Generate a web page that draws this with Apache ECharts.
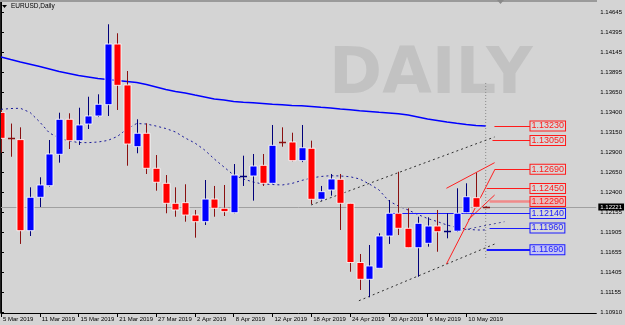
<!DOCTYPE html>
<html><head><meta charset="utf-8">
<script src="https://cdn.jsdelivr.net/npm/echarts@6/dist/echarts.min.js"></script>
<style>html,body{margin:0;padding:0;background:#d4d4d4}#c{width:625px;height:325px}</style>
</head><body><div id="c"></div>
<script>
const dates = ['5 Mar 2019','6 Mar 2019','7 Mar 2019','8 Mar 2019','11 Mar 2019','12 Mar 2019','13 Mar 2019','14 Mar 2019','15 Mar 2019','18 Mar 2019','19 Mar 2019','20 Mar 2019','21 Mar 2019','22 Mar 2019','25 Mar 2019','26 Mar 2019','27 Mar 2019','28 Mar 2019','29 Mar 2019','1 Apr 2019','2 Apr 2019','3 Apr 2019','4 Apr 2019','5 Apr 2019','8 Apr 2019','9 Apr 2019','10 Apr 2019','11 Apr 2019','12 Apr 2019','15 Apr 2019','16 Apr 2019','17 Apr 2019','18 Apr 2019','19 Apr 2019','22 Apr 2019','23 Apr 2019','24 Apr 2019','25 Apr 2019','26 Apr 2019','29 Apr 2019','30 Apr 2019','1 May 2019','2 May 2019','3 May 2019','6 May 2019','7 May 2019','8 May 2019','9 May 2019','10 May 2019','13 May 2019','14 May 2019'];
const opens  = [1.13398,1.13076,1.13060,1.11926,1.12342,1.12486,1.12877,1.13313,1.13046,1.13254,1.13354,1.13495,1.14250,1.13740,1.12972,1.13139,1.12703,1.12516,1.12267,1.12275,1.12121,1.12038,1.12320,1.12205,1.12150,1.12610,1.12607,1.12740,1.12516,1.13030,1.13030,1.12798,1.12952,1.12317,1.12433,1.12566,1.12267,1.11530,1.11321,1.11458,1.11860,1.12143,1.11956,1.11714,1.11769,1.11984,1.11913,1.11920,1.12150,1.12337,1.12225];
const closes = [1.13076,1.13060,1.11926,1.12342,1.12495,1.12881,1.13313,1.13046,1.13242,1.13354,1.13500,1.14250,1.13736,1.13005,1.13139,1.12703,1.12529,1.12267,1.12184,1.12121,1.12038,1.12320,1.12205,1.12163,1.12619,1.12612,1.12731,1.12516,1.12989,1.13025,1.12798,1.12959,1.12317,1.12412,1.12570,1.12267,1.11530,1.11321,1.11487,1.11860,1.12143,1.11956,1.11714,1.12018,1.11984,1.11913,1.11916,1.12143,1.12349,1.12217,1.12221];
const lows   = [1.12897,1.12847,1.11761,1.11860,1.12221,1.12474,1.12773,1.12943,1.12993,1.13192,1.13341,1.13354,1.13429,1.12735,1.12890,1.12632,1.12424,1.12143,1.12100,1.12038,1.11839,1.11997,1.12100,1.12109,1.12143,1.12483,1.12300,1.12483,1.12508,1.12972,1.12790,1.12780,1.12258,1.12300,1.12362,1.11935,1.11415,1.11188,1.11097,1.11458,1.11761,1.11872,1.11710,1.11353,1.11727,1.11664,1.11831,1.11910,1.12143,1.12210,1.12215];
const highs  = [1.13430,1.13260,1.13213,1.12466,1.12591,1.13055,1.13395,1.13388,1.13457,1.13594,1.13624,1.14496,1.14384,1.13914,1.13313,1.13263,1.12868,1.12619,1.12466,1.12504,1.12184,1.12557,1.12483,1.12495,1.12756,1.12860,1.12881,1.12881,1.13242,1.13213,1.13146,1.13242,1.13047,1.12483,1.12632,1.12632,1.12270,1.11636,1.11748,1.11894,1.12308,1.12660,1.12205,1.12100,1.12093,1.12184,1.12143,1.12454,1.12516,1.12648,1.12228];
const maSlow = [1.14089,1.14057,1.14026,1.13998,1.13970,1.13939,1.13908,1.13883,1.13858,1.13840,1.13821,1.13808,1.13796,1.13784,1.13771,1.13746,1.13715,1.13684,1.13659,1.13640,1.13615,1.13591,1.13566,1.13553,1.13535,1.13525,1.13518,1.13510,1.13501,1.13493,1.13485,1.13481,1.13472,1.13462,1.13454,1.13441,1.13431,1.13420,1.13410,1.13400,1.13391,1.13381,1.13366,1.13342,1.13317,1.13298,1.13279,1.13263,1.13248,1.13236,1.13229];
const maFast = [1.13437,1.13447,1.13450,1.13398,1.13279,1.13142,1.13080,1.13043,1.13024,1.13022,1.13030,1.13049,1.13099,1.13192,1.13261,1.13254,1.13229,1.13198,1.13155,1.13080,1.13018,1.12931,1.12819,1.12719,1.12619,1.12570,1.12532,1.12507,1.12501,1.12495,1.12514,1.12551,1.12582,1.12601,1.12611,1.12607,1.12598,1.12570,1.12507,1.12433,1.12296,1.12233,1.12184,1.12128,1.12078,1.12040,1.11997,1.11966,1.11947,1.11935,1.11935];
const xTickIdx = [0,4,8,12,16,20,24,28,32,36,40,44,48];
const yTickLabels = ['1.10910','1.11155','1.11405','1.11655','1.11905','1.12155','1.12400','1.12650','1.12900','1.13150','1.13400','1.13650','1.13895','1.14145','1.14395','1.14645'];
const levelPrices = [1.13230,1.13050,1.12690,1.12450,1.12290,1.12140,1.11960,1.11690];
const levelColors = ['red','red','red','red','red','blue','blue','blue'];
const levelStart  = [50.9,50.7,50.9,50.1,50.4,39.9,50.4,50.1];
const levelEnd = 54.62;
const bidPrice = 1.12221;
const channelLines = [[[31.98,1.12246],[50.92,1.13093]],[[36.92,1.11054],[50.92,1.11760]],[[47.3,1.11926],[51.94,1.12038]]];
const redLines = [[[45.95,1.12454],[50.92,1.12773]],[[45.95,1.11511],[50.92,1.12682]],[[48.17,1.12059],[50.92,1.12370]]];
const tuesdayLine = [[50,1.13765],[50,1.11586]];

const small = "'Liberation Sans',sans-serif";
const candleData = opens.map((o,i)=>[i,o,closes[i],lows[i],highs[i]]);

const chart = echarts.init(document.getElementById('c'));
const series = [];
series.push({
  type:'custom', z:5, data:candleData,
  renderItem(params, api){
    const i=api.value(0), o=api.value(1), c=api.value(2), l=api.value(3), h=api.value(4);
    const pO=api.coord([i,o]), pC=api.coord([i,c]), pL=api.coord([i,l]), pH=api.coord([i,h]);
    const up = c>=o;
    const x = Math.round(pO[0])+0.5;
    const top=Math.min(pO[1],pC[1]), bot=Math.max(pO[1],pC[1]);
    const wick = up?'#00007a':'#8a1010';
    const body = up?'#0000ff':'#ff0000';
    const ch=[{type:'line',shape:{x1:x,y1:pH[1],x2:x,y2:pL[1]},style:{stroke:wick,lineWidth:1}}];
    if (bot-top<2){
      ch.push({type:'line',shape:{x1:x-3.5,y1:Math.round(top)+0.5,x2:x+3.5,y2:Math.round(top)+0.5},style:{stroke:wick,lineWidth:1.5}});
    } else {
      ch.push({type:'rect',shape:{x:x-3.5,y:top,width:7,height:bot-top},style:{fill:body,stroke:'rgba(255,255,255,0.85)',lineWidth:1}});
    }
    return {type:'group',children:ch};
  }
});
series.push({type:'line',data:maSlow.map((v,i)=>[i,v]),showSymbol:false,z:3,lineStyle:{color:'#0000ff',width:1.5}});
series.push({type:'line',data:maFast.map((v,i)=>[i,v]),showSymbol:false,z:3,lineStyle:{color:'#1a1a9a',width:1,type:[2,3]}});
channelLines.forEach((d,k)=>series.push({type:'line',data:d,showSymbol:false,z:3,lineStyle:{color:k===2?'#4a4a9a':'#303030',width:1,type:[2,3]}}));
redLines.forEach(d=>series.push({type:'line',data:d,showSymbol:false,z:3,lineStyle:{color:'#ff2020',width:1}}));
series.push({type:'line',data:tuesdayLine,showSymbol:false,z:2,lineStyle:{color:'#8a8a8a',width:1,type:[1,2]}});
series.push({type:'line',data:[],z:4,markLine:{silent:true,symbol:['none','none'],animation:false,
  data: levelPrices.map((p,k)=>{
    const col = levelColors[k]==='red'?'#ff1a1a':'#1a1aff';
    const lineCol = k===4 ? '#f08a8a' : col;
    const lw = k===4 ? 2.5 : (k===7 ? 2 : 1);
    const bg = k===4 ? '#e9bcbc' : (k===7 ? '#c4c4f4' : '#d8d8d8');
    return [{coord:[levelStart[k],p],lineStyle:{color:lineCol,width:lw,type:'solid'},
      label:{show:true,position:'end',distance:0,formatter:p.toFixed(5),color:col,fontSize:9,fontFamily:'Liberation Sans',
        backgroundColor:bg,borderColor:col,borderWidth:1,padding:[1,1,0,1],lineHeight:8}},
      {coord:[levelEnd,p]}];
  }).concat([[{coord:[-0.01,bidPrice],lineStyle:{color:'#a0a0a0',width:1,type:'solid'},
      label:{show:true,position:'end',distance:2,formatter:bidPrice.toFixed(5),color:'#fff',fontSize:6,fontFamily:small,
        backgroundColor:'#000',padding:[1,2,0,2]}},{coord:[61.41,bidPrice]}]])
}});
series.push({type:'line',data:[tuesdayLine[0]],showSymbol:false,z:4,lineStyle:{opacity:0},
  label:{show:true,position:'top',distance:2,formatter:'Tuesday',color:'#7a7a7a',fontWeight:'bold',fontSize:9,fontFamily:'Liberation Sans'}});

chart.setOption({
  animation:false,
  backgroundColor:'#d4d4d4',
  grid:{left:0,right:28,top:2,bottom:12},
  xAxis:{type:'value',min:-0.0103,max:61.41,
    axisLine:{lineStyle:{color:'#000',width:1}},splitLine:{show:false},
    axisTick:{customValues:xTickIdx,length:4,lineStyle:{color:'#000'}},
    axisLabel:{customValues:xTickIdx,formatter:v=>dates[Math.round(v)]||'',color:'#000',fontSize:6,fontFamily:small,align:'left',margin:3,padding:[0,0,0,2]}},
  yAxis:{type:'value',position:'right',min:1.109013,max:1.147733,scale:true,
    axisLine:{show:true,lineStyle:{color:'#000',width:1}},splitLine:{show:false},
    axisTick:{show:true,customValues:yTickLabels.map(Number),length:3,lineStyle:{color:'#000'}},
    axisLabel:{customValues:yTickLabels.map(Number),formatter:v=>v.toFixed(5),color:'#000',fontSize:6,fontFamily:small,margin:4}},
  graphic:[
    {type:'text',left:329,top:44,z:-10,style:{text:'DAILY',font:"bold 64px 'DejaVu Sans'",fill:'#c2c2c2'}},
    {type:'rect',left:0,top:0,z:10,shape:{width:597,height:2},style:{fill:'#9a9a9a'}},
    {type:'polygon',z:10,shape:{points:[[497,0],[504,0],[500.5,4]]},style:{fill:'#8a8a8a'}},
    {type:'line',z:10,shape:{x1:0.5,y1:2,x2:0.5,y2:313},style:{stroke:'#202020',lineWidth:1}},
    {type:'polygon',z:10,shape:{points:[[2,5],[7,5],[4.5,8]]},style:{fill:'#000'}},
    {type:'text',left:11,top:3,z:10,style:{text:'EURUSD,Daily',font:"6.5px "+small,fill:'#000'}}
  ],
  series
});
</script></body></html>
